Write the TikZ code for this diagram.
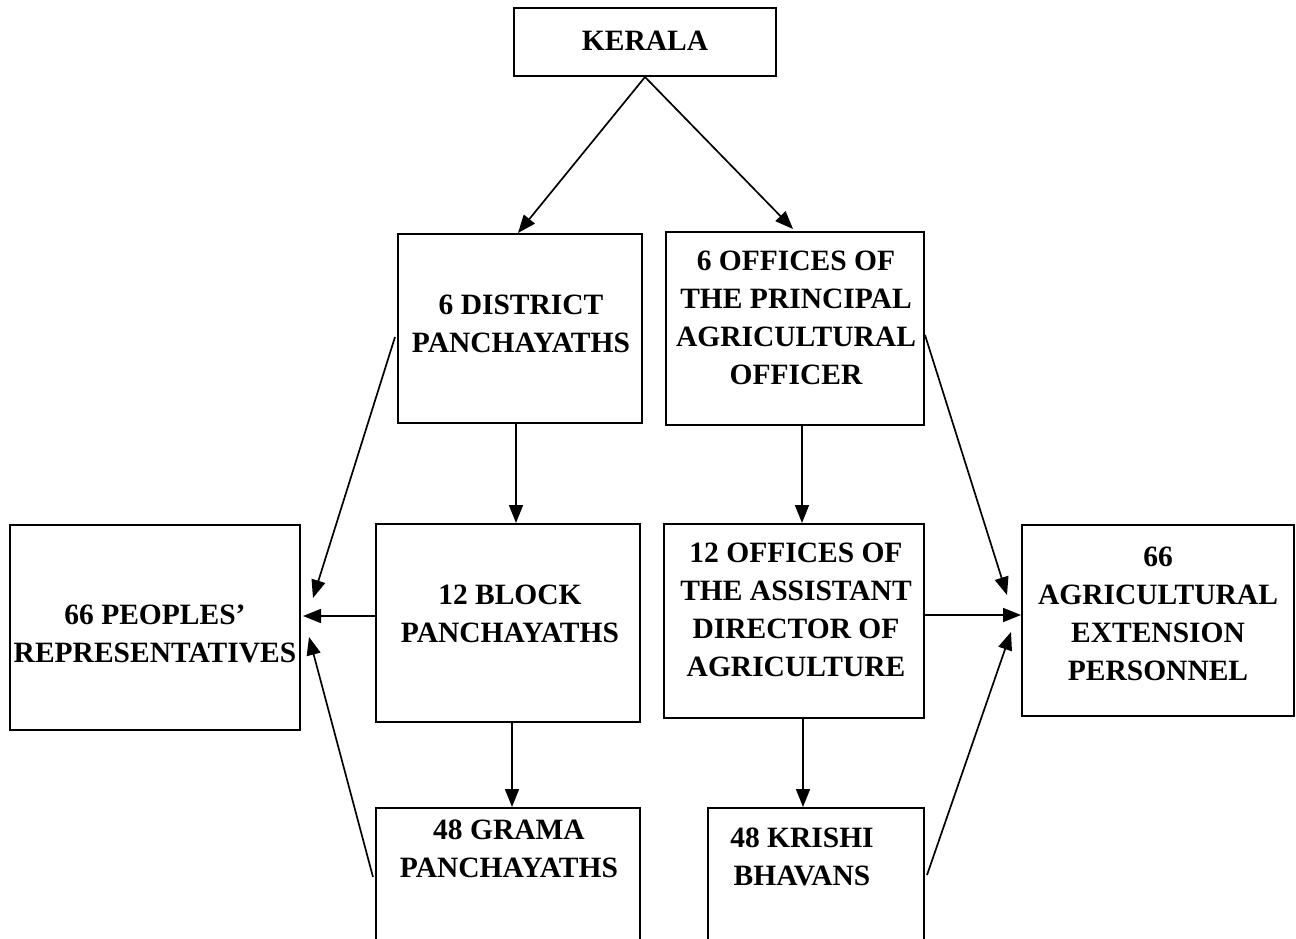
\documentclass[tikz,border=0pt]{standalone}
\usepackage{fontspec}
\setmainfont{Liberation Serif}
\usetikzlibrary{arrows.meta}
\tikzset{
  box/.style={draw, line width=2pt, inner sep=0pt},
  txt/.style={font=\fontsize{29.5}{38}\selectfont\bfseries, align=center, inner sep=0pt},
  arr/.style={line width=1.7pt, -{Triangle[length=18pt,width=14pt]}}
}
\begin{document}
\begin{tikzpicture}[x=1pt,y=-1pt]
\clip (0,0) rectangle (1296,939);
\fill[white] (0,0) rectangle (1296,939);

% boxes
\node[box, minimum width=262pt, minimum height=68pt]  (ker)  at (645,42)    {};
\node[box, minimum width=244pt, minimum height=189pt] (dist) at (520,328.5) {};
\node[box, minimum width=258pt, minimum height=193pt] (prin) at (795,328.5) {};
\node[box, minimum width=290pt, minimum height=205pt] (peo)  at (155,627.5) {};
\node[box, minimum width=264pt, minimum height=198pt] (blk)  at (508,623)   {};
\node[box, minimum width=260pt, minimum height=194pt] (asst) at (794,621)   {};
\node[box, minimum width=272pt, minimum height=191pt] (ext)  at (1158,620.5){};
\node[box, minimum width=264pt, minimum height=152pt] (gram) at (508,884)   {};
\node[box, minimum width=216pt, minimum height=152pt] (kri)  at (816,884)   {};

% labels
\node[txt] (ker-t)  at (645,41)  {KERALA};
\node[txt] (dist-t) at (521,324) {6 DISTRICT\\PANCHAYATHS};
\node[txt] (prin-t) at (796,318) {6 OFFICES OF\\THE PRINCIPAL\\AGRICULTURAL\\OFFICER};
\node[txt] (peo-t)  at (155,634) {66 PEOPLES’\\REPRESENTATIVES};
\node[txt] (blk-t)  at (510,614) {12 BLOCK\\PANCHAYATHS};
\node[txt] (asst-t) at (796,610) {12 OFFICES OF\\THE ASSISTANT\\DIRECTOR OF\\AGRICULTURE};
\node[txt] (ext-t)  at (1158,614){66\\AGRICULTURAL\\EXTENSION\\PERSONNEL};
\node[txt] (gram-t) at (509,849) {48 GRAMA\\PANCHAYATHS};
\node[txt] (kri-t)  at (802,857) {48 KRISHI\\BHAVANS};

% top split
\draw[arr] (ker.south) -- ([shift={(-2,0)}]dist.north);
\draw[arr] (ker.south) -- ([shift={(-2,-2)}]prin.north);

% vertical chains
\draw[arr] ([shift={(-4,0)}]dist.south) -- ([shift={(-4,0)}]dist.south |- blk.north);
\draw[arr] ([shift={(7,0)}]prin.south) -- ([shift={(7,0)}]prin.south |- asst.north);
\draw[arr] ([shift={(4,0)}]blk.south) -- ([shift={(4,0)}]blk.south |- gram.north);
\draw[arr] ([shift={(9,0)}]asst.south) -- ([shift={(9,0)}]asst.south |- kri.north);

% into the peoples' representatives
\draw[arr] ([shift={(0,-7)}]blk.west) -- ([shift={(2,-7)}]peo.east |- blk.west);
\draw[arr] ([shift={(-2,8.5)}]dist.west) -- ([shift={(12,-29.5)}]peo.east);
\draw[arr] ([shift={(-2,-7)}]gram.west) -- ([shift={(8,9.5)}]peo.east);

% into the extension personnel
\draw[arr] ([shift={(0,-6)}]asst.east) -- ([shift={(0,-6)}]ext.west |- asst.east);
\draw[arr] ([shift={(0,6.5)}]prin.east) -- ([shift={(-14,-25.5)}]ext.west);
\draw[arr] ([shift={(2,-9)}]kri.east) -- ([shift={(-10,11.5)}]ext.west);
\end{tikzpicture}
\end{document}
